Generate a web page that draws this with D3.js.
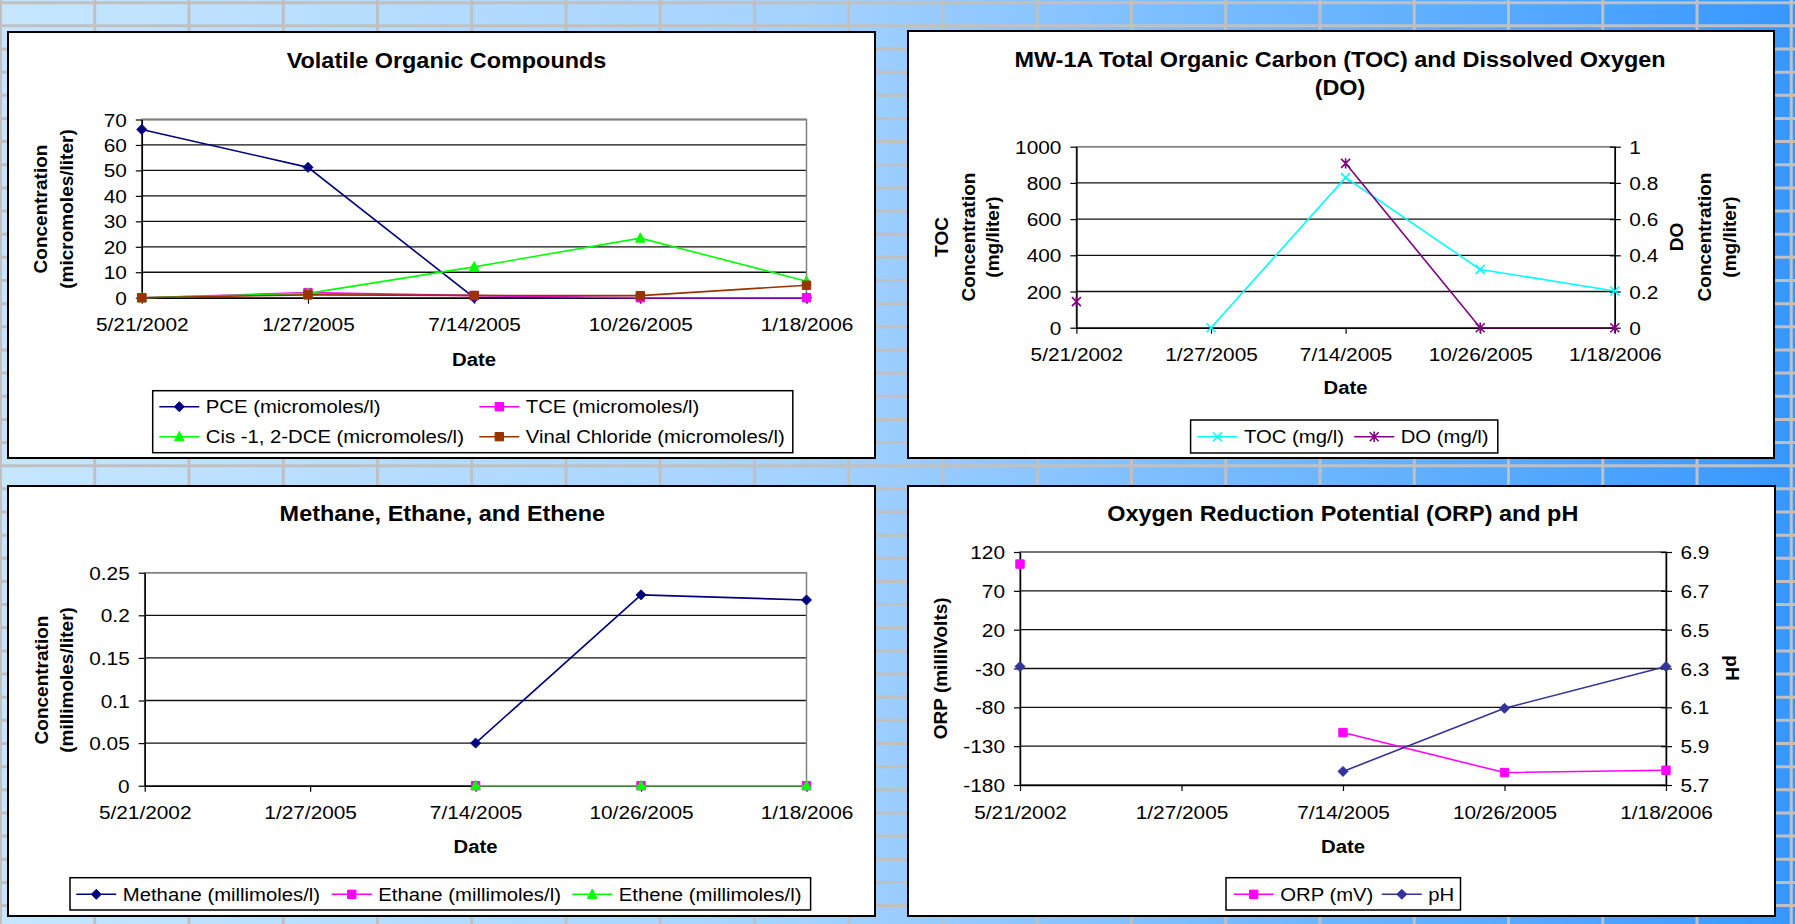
<!DOCTYPE html>
<html><head><meta charset="utf-8">
<script src="https://cdn.jsdelivr.net/npm/d3@7"></script>
<style>
body{margin:0;overflow:hidden;background:#fff;}
svg{display:block;}
text{font-family:"Liberation Sans",Arial,sans-serif;fill:#000;}
</style>
</head><body>
<svg id="c" width="1795" height="924"></svg>
<script>
// ---------------- DATA ----------------
const dates = ["5/21/2002","1/27/2005","7/14/2005","10/26/2005","1/18/2006"];

const pce = [66.1, 51.2, 0, 0, 0];
const tce = [0, 2.0, 0.8, 0, 0];
const cisDce = [0, 1.7, 12.1, 23.4, 6.5];
const vinylChloride = [0, 1.1, 0.9, 0.8, 4.9];

const toc = [null, 0, 829, 322, 203];
const dissolvedOxygen = [0.144, null, 0.908, 0, 0];

const methane = [null, null, 0.05, 0.224, 0.218];
const ethane = [null, null, 0, 0, 0];
const ethene = [null, null, 0, 0, 0];

const orp = [104.5, null, -112.5, -164, -161];
const ph = [6.31, null, 5.77, 6.095, 6.31];

const vocTicks = [0, 10, 20, 30, 40, 50, 60, 70];
const tocTicks = [0, 200, 400, 600, 800, 1000];
const doTicks = [0, 0.2, 0.4, 0.6, 0.8, 1];
const gasTicks = [0, 0.05, 0.1, 0.15, 0.2, 0.25];
const orpTicks = [-180, -130, -80, -30, 20, 70, 120];
const phTicks = [5.7, 5.9, 6.1, 6.3, 6.5, 6.7, 6.9];

// ---------------- STYLE ----------------
const FONT_TICK = 17.5, K_TICK = 1.19;
const FONT_TITLE = 22, K_TITLE = 1.065;
const FONT_LEG = 17.5, K_LEG = 1.16;
const FONT_DATE = 18, K_DATE = 1.13;
const FONT_AXT = 19;

const svg = d3.select("#c");

// background gradient + grid
const defs = svg.append("defs");
const grad = defs.append("linearGradient").attr("id","bg").attr("x1","0").attr("x2","1").attr("y1","0").attr("y2","0");
[[0,"#c6e6ff"],[0.45,"#a4d2ff"],[0.75,"#69b4ff"],[1,"#3797ff"]].forEach(([o,c]) =>
  grad.append("stop").attr("offset",o).attr("stop-color",c));
svg.append("rect").attr("width",1795).attr("height",924).attr("fill","url(#bg)");
const bgGrid = svg.append("g").attr("stroke","#c0c0c0").attr("stroke-width",3);
bgGrid.selectAll("line.v").data(d3.range(0,20)).join("line")
  .attr("x1",i=>0.5+i*94.25).attr("x2",i=>0.5+i*94.25).attr("y1",0).attr("y2",924);
bgGrid.selectAll("line.h").data(d3.range(0,41)).join("line")
  .attr("y1",i=>2.7+i*23.15).attr("y2",i=>2.7+i*23.15).attr("x1",0).attr("x2",1795);

function txt(g, x, y, s, o) {
  const t = g.append("text")
    .attr("transform", `translate(${x},${y})` + (o.rot ? ` rotate(${o.rot})` : "") + ` scale(${o.k||1},1)`)
    .attr("font-size", o.size).attr("text-anchor", o.anchor || "middle")
    .attr("font-weight", o.bold ? "bold" : "normal")
    .text(s);
  return t;
}

const markerPath = {
  diamond: r => `M0,${-r}L${r},0L0,${r}L${-r},0Z`,
  square: r => `M${-r},${-r}H${r}V${r}H${-r}Z`,
  triangle: r => `M0,${-r*1.1}L${r},${r*0.85}L${-r},${r*0.85}Z`,
  x: r => `M${-r},${-r}L${r},${r}M${-r},${r}L${r},${-r}`,
  star: r => `M${-r},${-r}L${r},${r}M${-r},${r}L${r},${-r}M0,${-r*1.15}V${r*1.15}`
};
const markerSize = {diamond:5, square:4.2, triangle:4.8, x:4.5, star:4.5};
function drawMarker(g, x, y, s) {
  const filled = (s.marker === "diamond" || s.marker === "square" || s.marker === "triangle");
  g.append("path").attr("transform", `translate(${x},${y})`)
    .attr("d", markerPath[s.marker](markerSize[s.marker]))
    .attr("fill", filled ? s.color : "none")
    .attr("stroke", s.color).attr("stroke-width", filled ? 1 : 1.6);
}

function panel(cfg) {
  const g = svg.append("g");
  const [bx0, by0, bx1, by1] = cfg.box;
  g.append("rect").attr("x",bx0).attr("y",by0).attr("width",bx1-bx0).attr("height",by1-by0)
    .attr("fill","#fff").attr("stroke","#000").attr("stroke-width",2);

  const p = cfg.plot;
  const x = d3.scalePoint().domain(dates).range([p.l, p.r]).padding(0);
  const yL = d3.scaleLinear().domain(cfg.yL.domain).range([p.b, p.t]);
  const yR = cfg.yR ? d3.scaleLinear().domain(cfg.yR.domain).range([p.b, p.t]) : null;

  // gridlines
  g.append("g").selectAll("line").data(cfg.yL.ticks).join("line")
    .attr("x1",p.l).attr("x2",p.r).attr("y1",d=>yL(d)).attr("y2",d=>yL(d))
    .attr("stroke","#111").attr("stroke-width",1.3);
  // plot border
  g.append("rect").attr("x",p.l).attr("y",p.t).attr("width",p.r-p.l).attr("height",p.b-p.t)
    .attr("fill","none").attr("stroke","#808080").attr("stroke-width",1.5);

  // left axis
  const gL = g.append("g").attr("transform",`translate(${p.l},0)`)
    .call(d3.axisLeft(yL).tickValues(cfg.yL.ticks).tickFormat(d=>String(d)).tickSize(6).tickSizeOuter(0));
  gL.attr("font-size",null).attr("font-family",null);
  gL.select(".domain").attr("stroke","#000").attr("stroke-width",1.5);
  gL.selectAll(".tick line").attr("stroke","#000").attr("stroke-width",1.2);
  gL.selectAll(".tick text").attr("x",null).attr("dy",null).attr("fill","#000")
    .attr("font-size",FONT_TICK).attr("text-anchor","end")
    .attr("transform",`translate(-15,6.5) scale(${K_TICK},1)`);

  // right axis
  if (yR) {
    const gR = g.append("g").attr("transform",`translate(${p.r},0)`)
      .call(d3.axisRight(yR).tickValues(cfg.yR.ticks).tickFormat(d=>String(d)).tickSize(6).tickSizeOuter(0));
    gR.attr("font-size",null).attr("font-family",null);
    gR.select(".domain").attr("stroke","#000").attr("stroke-width",1.5);
    gR.selectAll(".tick line").attr("x1",-5).attr("stroke","#000").attr("stroke-width",1.2);
    gR.selectAll(".tick text").attr("x",null).attr("dy",null).attr("fill","#000")
      .attr("font-size",FONT_TICK).attr("text-anchor","start")
      .attr("transform",`translate(14.5,6.5) scale(${K_TICK},1)`);
  }

  // bottom axis
  const gB = g.append("g").attr("transform",`translate(0,${p.b})`)
    .call(d3.axisBottom(x).tickSize(6).tickSizeOuter(0));
  gB.attr("font-size",null).attr("font-family",null);
  gB.select(".domain").attr("stroke","#000").attr("stroke-width",1.5);
  gB.selectAll(".tick line").attr("stroke","#000").attr("stroke-width",1.2);
  gB.selectAll(".tick text").attr("y",null).attr("dy",null).attr("fill","#000")
    .attr("font-size",FONT_TICK).attr("text-anchor","middle")
    .attr("transform",`translate(0,33.5) scale(${K_TICK},1)`);

  // series
  const sg = g.append("g");
  cfg.series.forEach(s => {
    const y = s.axis === "R" ? yR : yL;
    const pts = dates.map((d,i)=>({d, v:s.values[i]}));
    sg.append("path").datum(pts)
      .attr("d", d3.line().defined(q=>q.v!=null).x(q=>x(q.d)).y(q=>y(q.v)))
      .attr("fill","none").attr("stroke",s.color).attr("stroke-width",1.6);
    pts.filter(q=>q.v!=null).forEach(q => drawMarker(sg, x(q.d), y(q.v), s));
  });

  // titles
  cfg.title.forEach(t => txt(g, cfg.titleX, t.y, t.text, {size:FONT_TITLE, bold:true, k:K_TITLE}));
  // Date label
  txt(g, (p.l+p.r)/2, cfg.dateY, "Date", {size:FONT_DATE, bold:true, k:K_DATE});
  // axis titles
  cfg.axisTitles.forEach(a => txt(g, a.x, a.cy, a.text, {size:FONT_AXT, bold:true, rot:a.rot}));

  // legend
  const L = cfg.legend;
  g.append("rect").attr("x",L.box[0]).attr("y",L.box[1]).attr("width",L.box[2]-L.box[0]).attr("height",L.box[3]-L.box[1])
    .attr("fill","#fff").attr("stroke","#000").attr("stroke-width",1.5);
  L.items.forEach(it => {
    const s = cfg.series[it.i];
    g.append("line").attr("x1",it.x).attr("x2",it.x+40).attr("y1",it.y).attr("y2",it.y)
      .attr("stroke",s.color).attr("stroke-width",1.6);
    drawMarker(g, it.x+20, it.y, s);
    txt(g, it.x+46.5, it.y+6.5, s.name, {size:FONT_LEG, k:K_LEG, anchor:"start"});
  });
}

// ---------------- PANELS ----------------
panel({
  box:[8,32,875,458], plot:{l:141.8,t:119.5,r:806.5,b:297.7},
  yL:{domain:[0,70], ticks:vocTicks},
  series:[
    {name:"PCE (micromoles/l)", values:pce, color:"#000080", marker:"diamond"},
    {name:"TCE (micromoles/l)", values:tce, color:"#ff00ff", marker:"square"},
    {name:"Cis -1, 2-DCE (micromoles/l)", values:cisDce, color:"#00ff00", marker:"triangle"},
    {name:"Vinal Chloride (micromoles/l)", values:vinylChloride, color:"#993300", marker:"square"}
  ],
  title:[{text:"Volatile Organic Compounds", y:68.3}], titleX:446.5,
  dateY:365.7,
  axisTitles:[
    {text:"Concentration", x:46.7, cy:209, rot:-90},
    {text:"(micromoles/liter)", x:72.7, cy:209, rot:-90}
  ],
  legend:{box:[152.7,390.7,792.8,452.7], items:[
    {i:0,x:159.3,y:406.7},{i:1,x:479.3,y:406.7},{i:2,x:159.3,y:436.7},{i:3,x:479.3,y:436.7}]}
});

panel({
  box:[908,31,1774,458], plot:{l:1076.4,t:146.7,r:1614.8,b:327.7},
  yL:{domain:[0,1000], ticks:tocTicks},
  yR:{domain:[0,1], ticks:doTicks},
  series:[
    {name:"TOC (mg/l)", values:toc, color:"#00ffff", marker:"x", axis:"L"},
    {name:"DO (mg/l)", values:dissolvedOxygen, color:"#800080", marker:"star", axis:"R"}
  ],
  title:[{text:"MW-1A Total Organic Carbon (TOC) and Dissolved Oxygen", y:66.5},{text:"(DO)", y:95.3}], titleX:1340,
  dateY:394.3,
  axisTitles:[
    {text:"TOC", x:947.5, cy:237, rot:-90},
    {text:"Concentration", x:974.5, cy:237, rot:-90},
    {text:"(mg/liter)", x:998.5, cy:237, rot:-90},
    {text:"DO", x:1682.7, cy:237, rot:-90},
    {text:"Concentration", x:1711, cy:237, rot:-90},
    {text:"(mg/liter)", x:1736, cy:237, rot:-90}
  ],
  legend:{box:[1190.6,420,1497.8,453], items:[{i:0,x:1197.5,y:436.7},{i:1,x:1354.2,y:436.7}]}
});

panel({
  box:[8,486,875,916], plot:{l:144.7,t:572.7,r:806.5,b:785.7},
  yL:{domain:[0,0.25], ticks:gasTicks},
  series:[
    {name:"Methane (millimoles/l)", values:methane, color:"#000080", marker:"diamond"},
    {name:"Ethane (millimoles/l)", values:ethane, color:"#ff00ff", marker:"square"},
    {name:"Ethene (millimoles/l)", values:ethene, color:"#00ff00", marker:"triangle"}
  ],
  title:[{text:"Methane, Ethane, and Ethene", y:521}], titleX:442.3,
  dateY:852.5,
  axisTitles:[
    {text:"Concentration", x:47.5, cy:680, rot:-90},
    {text:"(millimoles/liter)", x:72.5, cy:680, rot:-90}
  ],
  legend:{box:[70,877.7,810.6,910], items:[{i:0,x:76.3,y:894.3},{i:1,x:331.8,y:894.3},{i:2,x:572.3,y:894.3}]}
});

panel({
  box:[908,486,1775,916], plot:{l:1020,t:552,r:1666,b:785},
  yL:{domain:[-180,120], ticks:orpTicks},
  yR:{domain:[5.7,6.9], ticks:phTicks},
  series:[
    {name:"ORP (mV)", values:orp, color:"#ff00ff", marker:"square", axis:"L"},
    {name:"pH", values:ph, color:"#333399", marker:"diamond", axis:"R"}
  ],
  title:[{text:"Oxygen Reduction Potential (ORP) and pH", y:521}], titleX:1342.8,
  dateY:852.5,
  axisTitles:[
    {text:"ORP (milliVolts)", x:946.7, cy:668.3, rot:-90},
    {text:"pH", x:1726, cy:668, rot:90}
  ],
  legend:{box:[1226,877.7,1460.5,910], items:[{i:0,x:1233.7,y:894.3},{i:1,x:1381.8,y:894.3}]}
});
</script>
</body></html>
